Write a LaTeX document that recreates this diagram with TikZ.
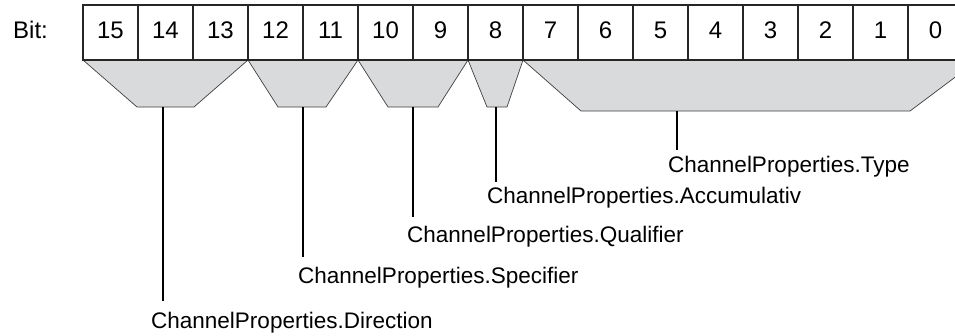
\documentclass[tikz,border=0pt]{standalone}
\usepackage{fontspec}
\setmainfont{Liberation Sans}
\definecolor{fieldfill}{HTML}{D9DADC}
\definecolor{fieldline}{HTML}{404040}
\begin{document}
\begin{tikzpicture}[x=1pt,y=-1pt,
  every node/.style={font=\fontsize{22.5}{27}\selectfont},
  bitfont/.style={font=\fontsize{24}{28}\selectfont},
  bitcell/.style={bitfont, draw=black!85, line width=1.2pt, minimum width=55pt, minimum height=55pt,
    inner sep=0pt, text height=17pt, text depth=5pt, anchor=center},
  field/.style={fill=fieldfill, draw=fieldline, line width=0.7pt, line join=miter},
  stem/.style={draw=black, line width=2.4pt},
  lbl/.style={anchor=base west, inner sep=0pt}]
\clip (0,0) rectangle (955,335);
\fill[white] (0,0) rectangle (955,335);

% trapezoids grouping the bits of each field
\path[field] (83,60) -- (248,60) -- (194,107) -- (137,107) -- cycle;
\path[field] (248,60) -- (358,60) -- (326,107) -- (278,107) -- cycle;
\path[field] (358,60) -- (468,60) -- (438,107) -- (388,107) -- cycle;
\path[field] (468,60) -- (523,60) -- (507,107) -- (487,107) -- cycle;
\path[field] (523,60) -- (978,60) -- (910,111) -- (581,111) -- cycle;

% the register cells, bit 15 on the left
\node[bitfont, anchor=base west, inner sep=0pt] (bit) at (13,38) {Bit:};
\foreach \b in {0,...,15}{
  \node[bitcell] (c\b) at ({83+(15-\b)*55+27.5},32.5) {\b};
}

% stem roots at the bottom of each field
\coordinate (s1) at (163,107);
\coordinate (s2) at (303,107);
\coordinate (s3) at (413,107);
\coordinate (s4) at (496,107);
\coordinate (s5) at (677,111);

% field names
\node[lbl] (l1) at (151,328) {ChannelProperties.Direction};
\node[lbl] (l2) at (298,283) {ChannelProperties.Specifier};
\node[lbl] (l3) at (407,242) {ChannelProperties.Qualifier};
\node[lbl] (l4) at (487,203) {ChannelProperties.Accumulativ};
\node[lbl] (l5) at (668,172) {ChannelProperties.Type};

\draw[stem, shorten >=11pt] (s1) -- (s1 |- l1.north);
\draw[stem, shorten >=9.5pt] (s2) -- (s2 |- l2.north);
\draw[stem, shorten >=8.5pt] (s3) -- (s3 |- l3.north);
\draw[stem, shorten >=4.5pt] (s4) -- (s4 |- l4.north);
\draw[stem, shorten >=5.5pt] (s5) -- (s5 |- l5.north);
\end{tikzpicture}
\end{document}
